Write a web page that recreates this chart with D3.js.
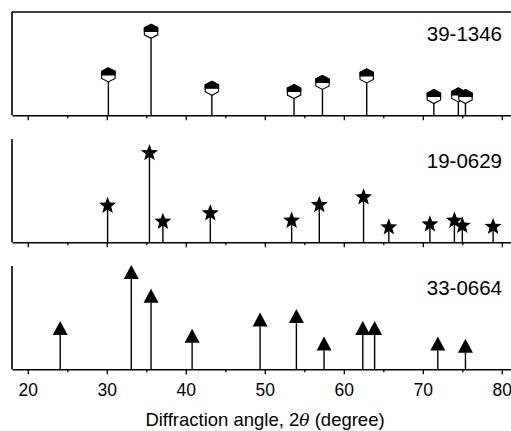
<!DOCTYPE html>
<html>
<head>
<meta charset="utf-8">
<script src="https://cdn.jsdelivr.net/npm/d3@7"></script>
<style>
  html, body { margin: 0; padding: 0; background: #fff; }
  svg { display: block; }
  text { font-family: "Liberation Sans", Arial, sans-serif; fill: #000; }
</style>
</head>
<body>
<svg id="chart" width="511" height="431"></svg>
<script>
// ---- data ----
const labelsPanels = ["39-1346", "19-0629", "33-0664"];

const maghemiteAngles = [30.2, 35.6, 43.3, 53.7, 57.3, 62.9, 71.4, 74.5, 75.4];
const maghemiteIntensity = [32.3, 74.5, 19.4, 16.2, 25, 31.4, 11.4, 12.9, 11.4];

const magnetiteAngles = [30.1, 35.4, 37.1, 43.1, 53.4, 56.9, 62.5, 65.7, 70.9, 74.0, 75.0, 78.9];
const magnetiteIntensity = [35.5, 86.4, 20, 28.2, 21, 36.2, 43.7, 14.6, 17.5, 21, 16.1, 15.1];

const hematiteAngles = [24.1, 33.1, 35.6, 40.8, 49.4, 54.0, 57.5, 62.4, 63.9, 71.9, 75.4];
const hematiteIntensity = [33.3, 87.4, 64.4, 25.8, 41.4, 44.7, 18.1, 33.3, 33.3, 18.1, 16.1];

const xTickValues = [20, 30, 40, 50, 60, 70, 80];
const xMinorTickValues = [25, 35, 45, 55, 65, 75];
const xTitle = "Diffraction angle, 2";

// ---- layout ----
const svg = d3.select("#chart");
const x = d3.scaleLinear().domain([18, 82]).range([12, 517.6]);
const panelTops = [12, 139, 266];
const panelH = 103.3;

const panels = [
  { name: labelsPanels[0], angles: maghemiteAngles, vals: maghemiteIntensity, marker: "hex", topBorder: true },
  { name: labelsPanels[1], angles: magnetiteAngles, vals: magnetiteIntensity, marker: "star", topBorder: false },
  { name: labelsPanels[2], angles: hematiteAngles, vals: hematiteIntensity, marker: "tri", topBorder: false }
];

function starPath(R, r) {
  const pts = [];
  for (let i = 0; i < 10; i++) {
    const a = -Math.PI / 2 + i * Math.PI / 5;
    const rad = i % 2 === 0 ? R : r;
    pts.push([rad * Math.cos(a), rad * Math.sin(a)]);
  }
  return "M" + pts.map(p => p[0].toFixed(2) + "," + p[1].toFixed(2)).join("L") + "Z";
}

panels.forEach((p, i) => {
  const top = panelTops[i];
  const base = top + panelH;
  const y = d3.scaleLinear().domain([0, 100]).range([base, top]);
  const g = svg.append("g");

  // bottom axis with ticks
  const axis = d3.axisBottom(x).tickValues(xTickValues).tickSize(5).tickSizeOuter(0)
    .tickFormat(i === 2 ? d3.format("d") : "");
  const ax = g.append("g").attr("transform", `translate(0,${base})`).call(axis);
  ax.select(".domain").attr("stroke-width", 1.6);
  ax.selectAll(".tick line").attr("stroke-width", 1.3);
  ax.selectAll(".tick text").attr("font-size", 17.5).attr("font-family", "Liberation Sans, Arial, sans-serif")
    .attr("dy", 0).attr("y", 26.5);
  const minor = d3.axisBottom(x).tickValues(xMinorTickValues).tickSize(3).tickFormat("");
  const mx = g.append("g").attr("transform", `translate(0,${base})`).call(minor);
  mx.select(".domain").remove();
  mx.selectAll(".tick line").attr("stroke-width", 1.3);

  // left axis line
  g.append("line").attr("x1", x(18)).attr("x2", x(18)).attr("y1", top).attr("y2", base)
    .attr("stroke", "#000").attr("stroke-width", 1.6);
  if (p.topBorder) {
    g.append("line").attr("x1", x(18)).attr("x2", x(82)).attr("y1", top).attr("y2", top)
      .attr("stroke", "#000").attr("stroke-width", 1.6);
  }

  // sticks
  const data = p.angles.map((a, k) => ({ a, v: p.vals[k] }));
  g.selectAll("line.stick").data(data).join("line").attr("class", "stick")
    .attr("x1", d => x(d.a)).attr("x2", d => x(d.a))
    .attr("y1", base).attr("y2", d => y(d.v))
    .attr("stroke", "#000").attr("stroke-width", 1.4);

  // markers
  const m = g.selectAll("g.mk").data(data).join("g").attr("class", "mk")
    .attr("transform", d => `translate(${x(d.a)},${y(d.v)})`);
  if (p.marker === "hex") {
    const w = 6.7, h = 7;
    const hex = `M0,${-2*h} L${w},${-1.5*h} L${w},${-0.5*h} L0,0 L${-w},${-0.5*h} L${-w},${-1.5*h} Z`;
    const topHalf = `M0,${-2*h} L${w},${-1.5*h} L${w},${-h} L${-w},${-h} L${-w},${-1.5*h} Z`;
    m.append("path").attr("d", hex).attr("fill", "#fff").attr("stroke", "#000").attr("stroke-width", 1.1);
    m.append("path").attr("d", topHalf).attr("fill", "#000").attr("stroke", "#000").attr("stroke-width", 1.1);
  } else if (p.marker === "star") {
    m.append("path").attr("d", starPath(9, 3.8)).attr("fill", "#000");
  } else {
    m.append("path").attr("d", "M0,-14 L7.5,0 L-7.5,0 Z").attr("fill", "#000");
  }

  // panel label
  g.append("text").attr("x", 502).attr("y", top + 29).attr("text-anchor", "end")
    .attr("font-size", 20.5).text(p.name);
});

// axis title
const t = svg.append("text").attr("x", 265).attr("y", 426).attr("text-anchor", "middle").attr("font-size", 18.5);
t.append("tspan").text(xTitle);
t.append("tspan").attr("font-style", "italic").attr("font-family", "DejaVu Serif, serif").attr("font-size", 17).text("θ");
t.append("tspan").text(" (degree)");
</script>
</body>
</html>
